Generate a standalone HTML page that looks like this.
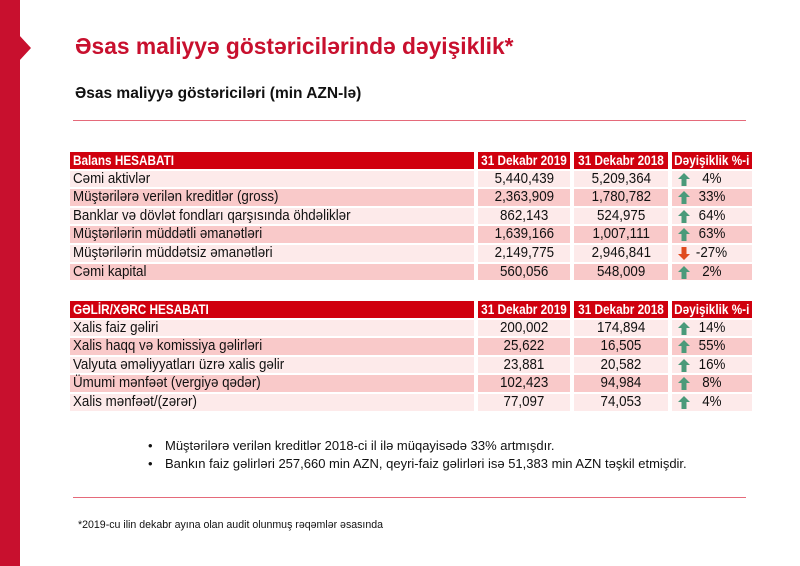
<!DOCTYPE html>
<html><head><meta charset="utf-8"><style>
*{margin:0;padding:0;box-sizing:border-box}
body{width:800px;height:566px;background:#fff;position:relative;overflow:hidden;font-family:"Liberation Sans",Arial,sans-serif;color:#111}
.bar{position:absolute;left:0;top:0;width:20px;height:566px;background:#c8102e}
.notch{position:absolute;left:19px;top:35px;width:0;height:0;border-top:13px solid transparent;border-bottom:13px solid transparent;border-left:12px solid #c8102e}
h1{position:absolute;left:75px;top:33px;font-size:22.8px;font-weight:bold;color:#c8102e;white-space:nowrap}
h2{position:absolute;left:75px;top:85px;font-size:15.5px;font-weight:bold;white-space:nowrap}
.hr{position:absolute;left:73px;width:673px;height:1px;background:#e56a7a}
.t{position:absolute;left:70px;font-size:15px}
.row{position:relative;height:18.6px;display:flex}
.row>div{height:16.6px;line-height:16.6px;margin-right:4px;white-space:nowrap;overflow:visible;flex:none}
.s{display:inline-block;transform:scaleX(.89);transform-origin:center}
.hd .s{transform:scaleX(.84);font-size:14px}
.c1 .s{transform-origin:left}
.c1{width:404px;padding-left:3px}
.c2,.c3,.c4{display:flex;justify-content:center}
.c2{width:92px}.c3{width:94px}.c4{width:80px;position:relative}
.hd>div{background:#d0000e;color:#fff;font-weight:bold}
.a>div{background:#fdeaea}.b>div{background:#f9c9c9}
.up,.dn{position:absolute;left:6px;top:2px;width:12px;height:13px}
ul{position:absolute;left:148px;top:437px;list-style:none;font-size:13px;line-height:18px}
ul li:before{content:"•";display:inline-block;width:17px}
.fn{position:absolute;left:78px;top:519px;font-size:10.6px}
</style></head><body>
<div class="bar"></div><div class="notch"></div>
<h1>Əsas maliyyə göstəricilərində dəyişiklik*</h1>
<h2>Əsas maliyyə göstəriciləri (min AZN-lə)</h2>
<div class="hr" style="top:120px"></div>
<svg width="0" height="0" style="position:absolute"><defs>
<symbol id="u" viewBox="0 0 12 13"><path d="M6 0L12 6H8.5V13H3.5V6H0Z" fill="#4a9a7a"/></symbol>
<symbol id="d" viewBox="0 0 12 13"><path d="M6 13L12 7H8.5V0H3.5V7H0Z" fill="#e04a1e"/></symbol></defs></svg>
<div class="t" style="top:152px">
<div class="row hd"><div class="c1"><span class="s">Balans HESABATI</span></div><div class="c2"><span class="s">31 Dekabr 2019</span></div><div class="c3"><span class="s">31 Dekabr 2018</span></div><div class="c4"><span class="s">Dəyişiklik %-i</span></div></div>
<div class="row a"><div class="c1"><span class="s">Cəmi aktivlər</span></div><div class="c2"><span class="s">5,440,439</span></div><div class="c3"><span class="s">5,209,364</span></div><div class="c4"><svg class="up"><use href="#u"/></svg><span class="s">4%</span></div></div>
<div class="row b"><div class="c1"><span class="s">Müştərilərə verilən kreditlər (gross)</span></div><div class="c2"><span class="s">2,363,909</span></div><div class="c3"><span class="s">1,780,782</span></div><div class="c4"><svg class="up"><use href="#u"/></svg><span class="s">33%</span></div></div>
<div class="row a"><div class="c1"><span class="s">Banklar və dövlət fondları qarşısında öhdəliklər</span></div><div class="c2"><span class="s">862,143</span></div><div class="c3"><span class="s">524,975</span></div><div class="c4"><svg class="up"><use href="#u"/></svg><span class="s">64%</span></div></div>
<div class="row b"><div class="c1"><span class="s">Müştərilərin müddətli əmanətləri</span></div><div class="c2"><span class="s">1,639,166</span></div><div class="c3"><span class="s">1,007,111</span></div><div class="c4"><svg class="up"><use href="#u"/></svg><span class="s">63%</span></div></div>
<div class="row a"><div class="c1"><span class="s">Müştərilərin müddətsiz əmanətləri</span></div><div class="c2"><span class="s">2,149,775</span></div><div class="c3"><span class="s">2,946,841</span></div><div class="c4"><svg class="dn"><use href="#d"/></svg><span class="s">-27%</span></div></div>
<div class="row b"><div class="c1"><span class="s">Cəmi kapital</span></div><div class="c2"><span class="s">560,056</span></div><div class="c3"><span class="s">548,009</span></div><div class="c4"><svg class="up"><use href="#u"/></svg><span class="s">2%</span></div></div>
</div>
<div class="t" style="top:301px">
<div class="row hd"><div class="c1"><span class="s">GƏLİR/XƏRC HESABATI</span></div><div class="c2"><span class="s">31 Dekabr 2019</span></div><div class="c3"><span class="s">31 Dekabr 2018</span></div><div class="c4"><span class="s">Dəyişiklik %-i</span></div></div>
<div class="row a"><div class="c1"><span class="s">Xalis faiz gəliri</span></div><div class="c2"><span class="s">200,002</span></div><div class="c3"><span class="s">174,894</span></div><div class="c4"><svg class="up"><use href="#u"/></svg><span class="s">14%</span></div></div>
<div class="row b"><div class="c1"><span class="s">Xalis haqq və komissiya gəlirləri</span></div><div class="c2"><span class="s">25,622</span></div><div class="c3"><span class="s">16,505</span></div><div class="c4"><svg class="up"><use href="#u"/></svg><span class="s">55%</span></div></div>
<div class="row a"><div class="c1"><span class="s">Valyuta əməliyyatları üzrə xalis gəlir</span></div><div class="c2"><span class="s">23,881</span></div><div class="c3"><span class="s">20,582</span></div><div class="c4"><svg class="up"><use href="#u"/></svg><span class="s">16%</span></div></div>
<div class="row b"><div class="c1"><span class="s">Ümumi mənfəət (vergiyə qədər)</span></div><div class="c2"><span class="s">102,423</span></div><div class="c3"><span class="s">94,984</span></div><div class="c4"><svg class="up"><use href="#u"/></svg><span class="s">8%</span></div></div>
<div class="row a"><div class="c1"><span class="s">Xalis mənfəət/(zərər)</span></div><div class="c2"><span class="s">77,097</span></div><div class="c3"><span class="s">74,053</span></div><div class="c4"><svg class="up"><use href="#u"/></svg><span class="s">4%</span></div></div>
</div>
<ul><li>Müştərilərə verilən kreditlər 2018-ci il ilə müqayisədə 33% artmışdır.</li><li>Bankın faiz gəlirləri 257,660 min AZN, qeyri-faiz gəlirləri isə 51,383 min AZN təşkil etmişdir.</li></ul>
<div class="hr" style="top:497px"></div>
<div class="fn">*2019-cu ilin dekabr ayına olan audit olunmuş rəqəmlər əsasında</div>
</body></html>
